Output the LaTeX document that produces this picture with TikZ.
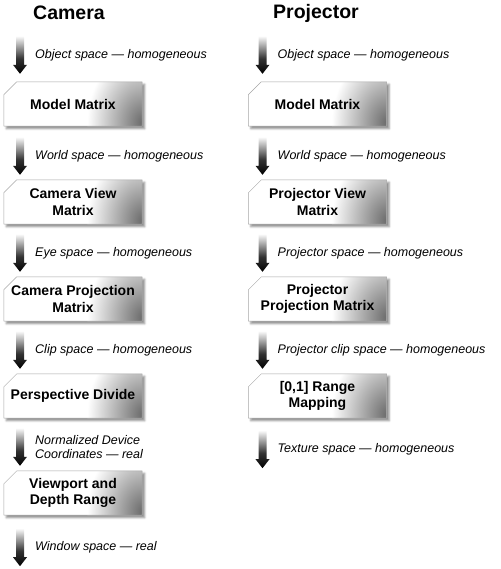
\documentclass[tikz,border=0pt]{standalone}
\usepackage{fontspec}
\setmainfont{Liberation Sans}
\usetikzlibrary{calc,backgrounds,shadows.blur}

\pgfdeclareverticalshading{arrowshade}{100bp}{color(0bp)=(black); color(25bp)=(black); color(45bp)=(black!80); color(75bp)=(white); color(100bp)=(white)}
\newcommand{\stageoutline}[1]{($(#1.north west)+(0,13)$) -- ($(#1.north west)+(13,0)$) -- (#1.north east) -- (#1.south east) -- (#1.south west) -- cycle}

\begin{document}
\begin{tikzpicture}[x=1pt,y=-1pt,
  stage/.style={minimum width=138pt,minimum height=44pt,inner sep=0pt,
    align=center,font=\fontsize{14}{16.5}\selectfont\bfseries},
  stagebox/.style={fill=white,
    blur shadow={shadow xshift=2.5pt,shadow yshift=-2.5pt,shadow blur radius=2pt,shadow opacity=45}},
  stageline/.style={draw=black!35,line width=0.5pt},
  space/.style={anchor=west,align=left,inner sep=0pt,font=\fontsize{12.5}{14}\selectfont\itshape},
  heading/.style={anchor=base west,inner sep=0pt,font=\fontsize{19.5}{22}\selectfont\bfseries},
  spacearrow/.pic={
    \shade[shading=arrowshade] (-4,-38)--(-4,-9)--(-7,-9)--(0,0)--(7,-9)--(4,-9)--(4,-38)--cycle;
    \node[space] (-label) at (15,-19) {#1};
  }]
\useasboundingbox (0,0) rectangle (500,569);

\node[heading] (camera) at (33,20) {Camera};
\node[heading] (projector) at (273,19) {Projector};

\node[stage] (cm1) at (73,104) {Model Matrix};
\node[stage] (cm2) at (73,202) {Camera View\\Matrix};
\node[stage] (cm3) at (73,299) {Camera Projection\\Matrix};
\node[stage] (cm4) at (73,396) {Perspective Divide};
\node[stage] (cm5) at (73,493) {Viewport and\\Depth Range};

\node[stage] (pm1) at (317.5,104) {Model Matrix};
\node[stage] (pm2) at (317.5,202) {Projector View\\Matrix};
\node[stage] (pm3) at (317.5,299) {Projector\\Projection Matrix};
\node[stage] (pm4) at (317.5,396) {[0,1] Range\\Mapping};

\begin{scope}[on background layer]
\foreach \b in {cm1,cm2,cm3,cm4,cm5,pm1,pm2,pm3,pm4}{
  \path[stagebox] \stageoutline{\b};
  \begin{scope}
    \clip \stageoutline{\b};
    \shade[inner color=black!58,outer color=white] ($(\b.south east)+(0,-4)$) ellipse [x radius=55,y radius=72];
  \end{scope}
  \path[stageline] \stageoutline{\b};
}
\end{scope}

\pic (ca1) at ($(cm1.north)+(-53,-8)$) {spacearrow={Object space --- homogeneous}};
\pic (ca2) at ($(cm2.north)+(-53,-5)$) {spacearrow={World space --- homogeneous}};
\pic (ca3) at ($(cm3.north)+(-53,-5)$) {spacearrow={Eye space --- homogeneous}};
\pic (ca4) at ($(cm4.north)+(-53,-5)$) {spacearrow={Clip space --- homogeneous}};
\pic (ca5) at ($(cm5.north)+(-53,-5)$) {spacearrow={Normalized Device\\Coordinates --- real}};
\pic (ca6) at ($(cm5.south)+(-53,51)$) {spacearrow={Window space --- real}};

\pic (pa1) at ($(pm1.north)+(-55,-8)$) {spacearrow={Object space --- homogeneous}};
\pic (pa2) at ($(pm2.north)+(-55,-5)$) {spacearrow={World space --- homogeneous}};
\pic (pa3) at ($(pm3.north)+(-55,-5)$) {spacearrow={Projector space --- homogeneous}};
\pic (pa4) at ($(pm4.north)+(-55,-5)$) {spacearrow={Projector clip space --- homogeneous}};
\pic (pa5) at ($(pm4.south)+(-55,50)$) {spacearrow={Texture space --- homogeneous}};

\end{tikzpicture}
\end{document}
